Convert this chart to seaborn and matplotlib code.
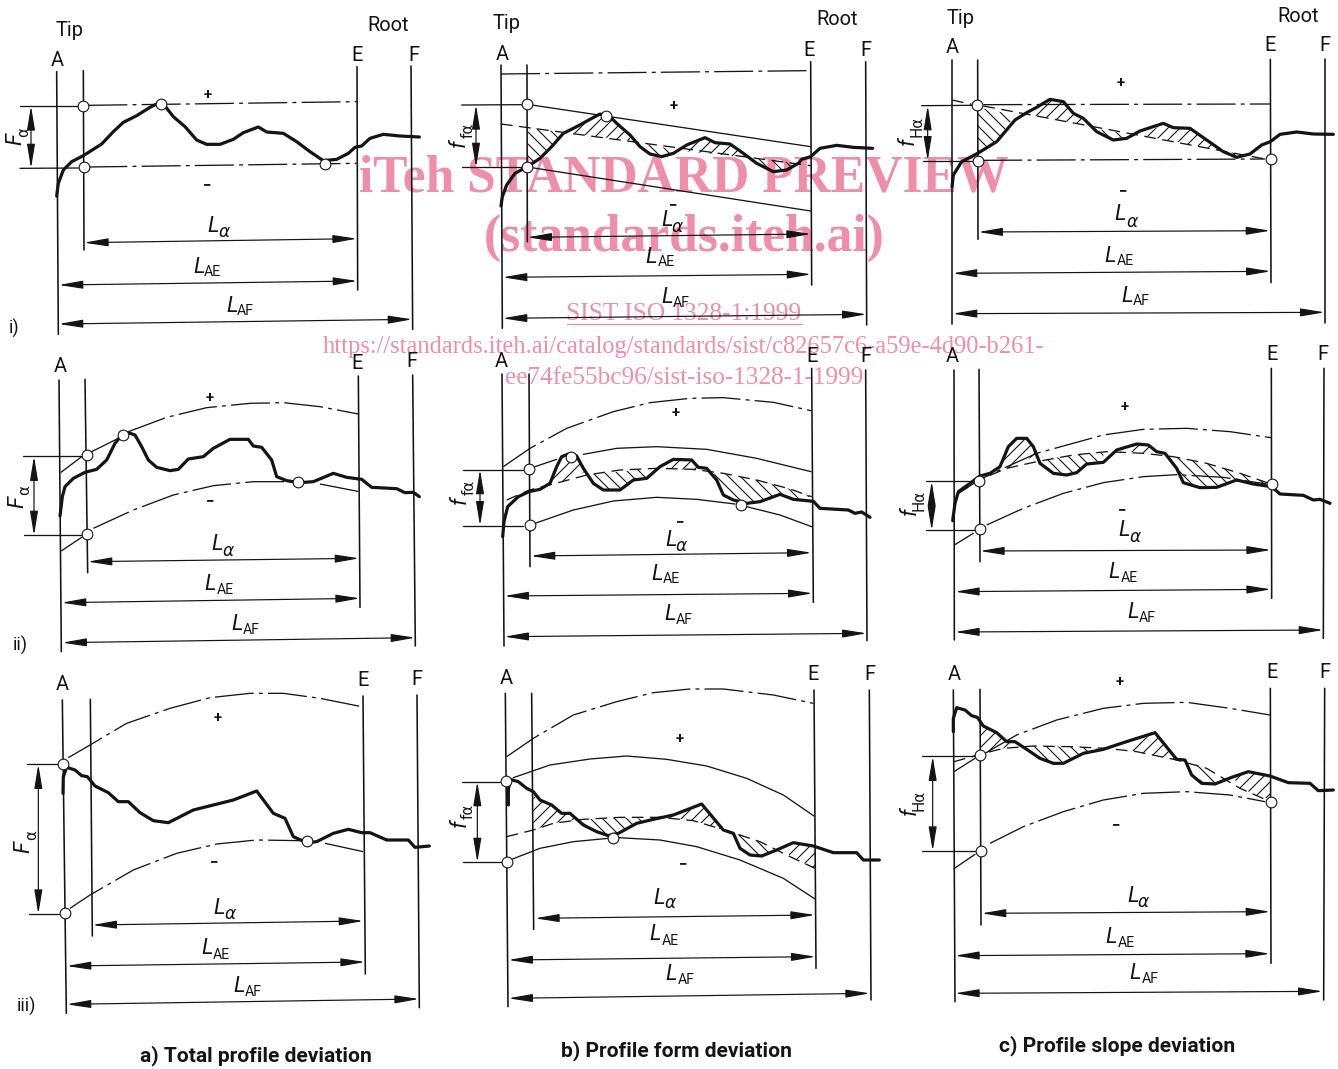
import matplotlib
matplotlib.use('Agg')
import matplotlib.pyplot as plt
from matplotlib.patches import Polygon
import seaborn as sns

DASHDOT = (0, (30, 4, 3, 4))
DASHED = (0, (9, 5))
INK = '#141414'
PINK = '#F08DAA'

# column a
a1_profile = [(170,588),(175,550),(190,510),(215,485),(250,467),(305,432),(340,395),(370,367),(410,347),(450,322),(470,312),(495,318),(520,350),(555,380),(590,420),(620,433),(660,433),(700,418),(730,398),(775,381),(800,396),(850,400),(890,425),(930,455),(970,482),(1010,478),(1045,460),(1065,442),(1085,438),(1110,415),(1150,403),(1200,408),(1258,411)]
a1_verts = [(170,215,175,1003),(250,212,252,750),(1071,200,1073,870),(1233,198,1238,988)]
a1_thin = [[(60,318),(235,318)],[(60,505),(235,504)]]
a1_dashdot = [[(265,316),(1070,305)],[(265,501),(1070,490)]]
a1_circles = [(250,317),(252,501),(482,313),(975,492)]
a2_profile = [(180,528),(187,470),(195,440),(220,415),(255,397),(290,388),(320,360),(345,310),(365,285),(385,278),(405,285),(425,320),(445,360),(470,382),(510,392),(535,388),(565,357),(610,350),(640,325),(690,298),(745,298),(760,318),(785,322),(815,360),(830,410),(860,422),(900,428),(940,425),(1000,400),(1040,412),(1085,418),(1115,442),(1190,446),(1215,458),(1240,457),(1258,470)]
a2_verts = [(177,120,184,935),(255,118,263,698),(1075,108,1080,802),(1238,105,1246,918)]
a2_thin = [[(70,349),(245,349)],[(72,586),(245,586)],[(183,397),(245,350)],[(275,335),(355,295)],[(185,632),(245,592)]]
a2_dashdot = [[(385,275),(500,232),(620,203),(750,190),(850,188),(960,200),(1075,222)],[(280,565),(400,510),(520,465),(640,437),(760,425),(880,425)],[(960,432),(1078,455)]]
a2_circles = [(260,346),(261,582),(369,286),(894,425)]
a3_profile = [(189,400),(190,350),(200,322),(225,330),(245,347),(262,350),(285,378),(325,398),(355,425),(385,425),(420,458),(460,482),(505,488),(580,450),(640,435),(700,420),(770,393),(820,460),(855,475),(880,530),(920,548),(950,545),(1000,520),(1045,508),(1085,518),(1110,518),(1160,540),(1225,540),(1245,562),(1288,558)]
a3_verts = [(187,120,199,1060),(271,118,277,828),(1089,108,1096,942),(1251,105,1258,1043)]
a3_thin = [[(80,313),(170,313)],[(88,762),(180,762)]]
a3_dashdot = [[(205,293),(270,255),(380,190),(510,145),(630,113),(750,100),(850,100),(960,115),(1085,140)],[(210,745),(270,705),(400,630),(530,580),(650,552),(770,540),(905,542)],[(975,550),(1090,575)]]
a3_circles = [(190,312),(195,760),(921,544)]

# column b
b1_profile = [(183,618),(187,590),(200,555),(225,520),(262,500),(300,475),(335,440),(370,400),(410,380),(450,358),(480,342),(510,350),(530,370),(570,405),(600,440),(630,462),(665,470),(700,460),(740,435),(795,413),(825,428),(870,432),(910,460),(950,490),(1000,515),(1040,510),(1075,490),(1085,478),(1112,470),(1140,445),(1190,436),(1240,442),(1298,445)]
b1_verts = [(183,195,187,985),(261,195,262,725),(1112,185,1115,855),(1277,185,1280,975)]
b1_thin = [[(65,315),(245,314)],[(275,315),(1112,440)],[(65,502),(245,502)],[(275,503),(1112,633)]]
b1_dashdot = [[(183,222),(1100,212)]]
b1_dashed = [[(183,372),(1112,497)]]
b1_circles = [(260,313),(262,502),(497,347)]
b1_hatch = [('\\',[(262,382),(365,397),(335,440),(300,475),(262,495)]),('/',[(380,398),(410,380),(450,358),(480,342),(510,350),(530,370),(570,405),(570,422)]),('\\',[(595,427),(630,462),(665,470),(700,460),(710,451)]),('/',[(720,452),(795,413),(825,428),(870,432),(910,460),(925,473)]),('\\',[(950,490),(1000,515),(1040,510),(1075,490),(1112,495),(950,475)])]
b2_profile = [(188,590),(192,545),(203,500),(235,470),(267,455),(300,448),(330,430),(350,380),(365,350),(385,342),(410,348),(430,385),(460,430),(490,450),(540,450),(580,420),(620,415),(660,380),(700,358),(755,360),(775,382),(800,385),(830,420),(850,465),(880,480),(920,490),(960,485),(1020,463),(1060,478),(1120,484),(1140,505),(1225,510),(1245,520),(1265,516),(1290,532)]
b2_verts = [(186,102,192,918),(267,102,270,680),(1115,85,1120,787),(1277,90,1281,902)]
b2_thin = [[(70,389),(250,389)],[(285,380),(350,358)],[(430,343),(530,325),(650,320),(800,328),(950,355),(1113,395)],[(70,557),(250,557)],[(285,550),(400,510),(520,483),(650,472),(770,478),(885,492)],[(920,500),(1020,525),(1115,560)]]
b2_dashdot = [[(190,380),(270,325),(380,265),(520,215),(630,188),(750,175),(850,173),(1000,187),(1113,212)]]
b2_dashed = [[(200,480),(268,450),(340,432),(440,405),(540,390),(650,385),(760,388),(850,400),(950,420),(1050,447),(1115,470)]]
b2_circles = [(268,387),(270,554),(392,351),(904,495)]
b2_hatch = [('/',[(335,430),(365,350),(385,342),(410,348),(435,395),(390,420)]),('\\',[(445,404),(460,430),(490,450),(540,450),(580,420),(620,410),(610,388)]),('/',[(690,385),(700,358),(755,360),(775,382),(770,392)]),('\\',[(820,395),(830,420),(850,465),(880,480),(920,490),(960,485),(1000,470),(1020,463),(1060,478),(1115,470),(1050,447),(950,420)])]
b3_profile = [(205,435),(205,390),(210,358),(235,365),(260,385),(280,395),(300,420),(335,435),(365,460),(390,460),(430,495),(470,515),(505,527),(535,520),(590,490),(640,478),(700,465),(785,432),(850,510),(880,520),(900,565),(930,585),(965,588),(1010,570),(1060,548),(1120,558),(1180,578),(1250,578),(1270,600),(1318,600)]
b3_verts = [(196,100,204,1040),(275,100,281,808),(1122,90,1128,925),(1288,90,1293,1020)]
b3_thin = [[(65,365),(180,365)],[(68,607),(185,607)],[(220,353),(330,315),(450,297),(560,288),(680,298),(800,318),(920,355),(1030,405),(1122,468)],[(215,598),(300,565),(400,545),(505,535)],[(535,533),(660,540),(770,560),(900,600),(1030,655),(1125,717)]]
b3_dashdot = [[(200,290),(280,235),(400,165),(530,125),(640,98),(750,87),(850,87),(1000,105),(1120,130)]]
b3_dashed = [[(200,530),(280,510),(340,490),(430,478),(540,472),(660,472),(760,482),(860,512),(960,545),(1050,590),(1125,625)]]
b3_circles = [(198,363),(200,605),(520,535)]
b3_hatch = [('/',[(280,408),(300,420),(335,435),(365,460),(390,460),(415,478),(340,490),(280,510)]),('\\',[(430,478),(430,495),(470,515),(505,527),(535,520),(590,490),(640,478),(540,472)]),('/',[(680,472),(700,465),(785,432),(850,510),(800,495),(760,482)]),('\\',[(885,520),(900,565),(930,585),(965,588),(1000,572),(960,545)]),('/',[(1030,555),(1060,548),(1125,558),(1125,625),(1050,590)])]

# column c
c1_profile = [(186,560),(190,525),(215,485),(263,460),(320,425),(375,360),(410,338),(440,322),(480,298),(520,305),(550,340),(580,355),(620,395),(670,420),(710,415),(750,393),(820,370),(850,383),(900,385),(950,420),(1000,455),(1040,472),(1080,462),(1115,435),(1141,425),(1170,403),(1220,396),(1270,402),(1330,403)]
c1_verts = [(186,180,186,972),(263,180,264,718),(1141,178,1143,848),(1305,178,1305,968)]
c1_thin = [[(95,317),(245,316)],[(100,482),(245,482)]]
c1_dashdot = [[(280,314),(1141,312)],[(280,481),(1125,477)]]
c1_dashed = [[(186,300),(245,313)],[(280,318),(1125,477)]]
c1_circles = [(262,315),(263,482),(1143,478)]
c1_hatch = [('\\',[(263,322),(375,345),(320,425),(263,460)]),('/',[(430,346),(480,298),(520,305),(550,340),(580,355),(590,376)]),('\\',[(610,385),(670,420),(710,415),(730,405)]),('/',[(760,407),(820,370),(850,383),(900,385),(950,420),(985,449)]),('\\',[(1000,455),(1040,472),(1060,465),(1020,456)])]
c2_profile = [(188,542),(195,490),(205,455),(240,430),(270,408),(300,400),(330,380),(355,320),(380,295),(410,295),(430,320),(450,370),(490,400),(530,405),(560,398),(590,372),(640,367),(680,330),(740,312),(775,315),(800,335),(825,340),(860,385),(880,428),(930,443),(980,442),(1040,420),(1090,432),(1145,440),(1170,462),(1240,466),(1270,480),(1290,478),(1320,490)]
c2_verts = [(192,90,193,900),(267,88,270,665),(1144,85,1145,775),(1302,85,1300,895)]
c2_thin = [[(108,424),(255,424)],[(108,571),(255,571)],[(193,615),(250,580)]]
c2_dashdot = [[(205,460),(267,420),(340,385),(440,340),(640,285),(760,268),(890,265),(1020,275),(1143,293)],[(290,555),(400,505),(520,460),(640,428),(760,410),(860,404),(1000,412),(1130,432)]]
c2_dashed = [[(205,460),(267,420),(350,385),(440,365),(550,345),(650,335),(760,340),(850,350),(950,370),(1050,400),(1143,432)]]
c2_circles = [(268,424),(269,568),(1145,432)]
c2_hatch = [('\\',[(205,460),(240,432),(268,425)]),('/',[(330,385),(355,320),(380,295),(410,295),(440,345),(355,385)]),('\\',[(450,360),(490,400),(530,405),(560,398),(590,372),(640,365),(640,335),(550,345)]),('/',[(690,335),(740,312),(775,315),(790,340)]),('\\',[(840,350),(860,385),(880,428),(930,443),(980,442),(1040,420),(1090,432),(1130,428),(1050,400),(950,370)])]
c3_profile = [(190,215),(190,175),(200,143),(225,150),(245,167),(262,172),(280,198),(320,218),(350,245),(375,245),(410,268),(450,295),(490,310),(520,310),(580,280),(640,268),(700,248),(795,218),(860,298),(885,300),(905,345),(935,370),(975,372),(1025,352),(1075,335),(1140,348),(1195,368),(1260,370),(1285,392),(1330,390)]
c3_verts = [(190,90,195,1025),(270,88,273,795),(1141,85,1143,910),(1304,85,1301,1020)]
c3_thin = [[(95,289),(255,289)],[(97,573),(255,573)],[(192,335),(255,295)],[(192,626),(255,583)]]
c3_dashdot = [[(285,280),(380,225),(500,180),(640,145),(760,130),(890,127),(1020,145),(1140,165)],[(300,550),(400,500),(520,455),(640,420),(760,400),(890,395),(1020,405),(1125,425)]]
c3_dashed = [[(192,305),(270,283),(340,265),(430,258),(540,260),(650,265),(740,275),(860,300),(950,325),(1050,385),(1130,420)]]
c3_circles = [(270,286),(272,572),(1143,427)]
c3_hatch = [('/',[(270,195),(280,198),(320,218),(350,245),(375,250),(340,265),(270,283)]),('\\',[(420,258),(450,295),(490,310),(520,310),(580,280),(640,268),(560,260)]),('/',[(700,268),(795,218),(860,298),(790,285),(740,275)]),('\\',[(910,310),(935,370),(975,372),(1000,360),(960,332)]),('/',[(1030,350),(1075,335),(1140,348),(1143,420),(1050,385)])]

# dimension arrows: (x0, y0, x1, y1) for f, L alpha, L AE, L AF
a1_arrows = [(93,318,93,505),(252,728,1071,716),(176,855,1072,843),(176,972,1237,958)]
a2_arrows = [(102,349,102,586),(263,665,1078,655),(185,788,1080,775),(187,908,1246,893)]
a3_arrows = [(115,313,115,762),(277,795,1090,783),(200,918,1095,906),(200,1033,1257,1017)]
b1_arrows = [(108,315,108,502),(262,712,1113,702),(188,832,1114,823),(188,955,1280,943)]
b2_arrows = [(120,389,120,557),(272,648,1115,638),(193,768,1118,760),(193,890,1280,880)]
b3_arrows = [(112,365,112,607),(285,775,1125,765),(205,900,1127,890),(205,1015,1290,1000)]
c1_arrows = [(113,317,113,482),(265,696,1141,692),(188,820,1142,814),(188,941,1304,937)]
c2_arrows = [(125,424,125,571),(270,633,1143,630),(195,755,1143,748),(195,876,1300,870)]
c3_arrows = [(128,289,128,573),(275,760,1141,755),(195,887,1140,881),(195,1000,1298,994)]

# label anchors: A, E, F, plus, minus, then L and subscript for L alpha, L AE, L AF, then f and its subscript
a1_text = [(171,182),(1071,166),(1241,166),(623,286),(620,555),(640,678),(673,695),(597,802),(638,815),(695,918),(737,933),(47,418),(72,395)]
a2_text = [(180,80),(1072,70),(1235,65),(628,175),(630,483),(650,615),(683,633),(630,735),(675,750),(712,855),(755,870),(55,485),(75,450)]
a3_text = [(188,75),(1088,62),(1251,58),(652,175),(643,606),(657,745),(690,762),(622,865),(665,885),(716,980),(760,997),(72,560),(95,525)]
b1_text = [(186,163),(1108,153),(1278,150),(700,318),(698,615),(680,660),(712,680),(632,772),(678,787),(680,893),(725,910),(58,430),(85,390)]
b2_text = [(185,65),(1117,50),(1278,50),(708,218),(720,547),(692,600),(722,617),(650,703),(693,718),(690,825),(733,840),(62,482),(87,442)]
b3_text = [(198,55),(1120,45),(1290,45),(720,238),(730,612),(657,715),(690,730),(645,825),(690,843),(692,945),(738,960),(60,490),(85,455)]
c1_text = [(188,143),(1140,137),(1305,137),(693,250),(700,572),(690,645),(725,665),(660,768),(705,782),(710,888),(755,903),(55,425),(80,380)]
c2_text = [(188,50),(1145,45),(1300,42),(703,200),(695,510),(703,572),(735,590),(672,698),(717,715),(728,818),(773,835),(60,515),(88,480)]
c3_text = [(193,43),(1145,37),(1305,37),(688,65),(678,495),(728,710),(760,725),(662,833),(708,848),(735,940),(780,957),(60,455),(88,420)]

letter_labels = ['A', 'E', 'F', '+', '\u2212']
deviation_names = [('F', '\u03b1'), ('f', 'f\u03b1'), ('f', 'H\u03b1')]
length_subs = ['\u03b1', 'AE', 'AF']
tip_root = [[(208,88),(1163,73)], [(200,68),(1192,55)], [(212,52),(1225,48)]]
row_labels = ['i)', 'ii)', 'iii)']
row_label_pos = [(42,985), (60,915), (80,1040)]
captions = ['a) Total profile deviation', 'b) Profile form deviation', 'c) Profile slope deviation']
caption_pos = [(256,1055), (676,1050), (1117,1045)]
watermark_lines = ['iTeh STANDARD PREVIEW', '(standards.iteh.ai)', 'SIST ISO 1328-1:1999',
                   'https://standards.iteh.ai/catalog/standards/sist/c82657c6-a59e-4d90-b261-',
                   'ee74fe55bc96/sist-iso-1328-1-1999']

col_x = [0, 440, 890]
row_y = [0, 340, 660]

sns.set_theme(style='white')
plt.rcParams['font.family'] = ['Roboto', 'DejaVu Sans']
plt.rcParams['hatch.linewidth'] = 1.1
plt.rcParams['hatch.color'] = INK

# at 72 dpi one point is one pixel
fig = plt.figure(figsize=(1338 / 72, 1069 / 72), dpi=72)
ax = fig.add_axes([0, 0, 1, 1])
alpha_font = ['DejaVu Sans']


def to_px(pts, ox, oy):
    return [ox + p[0] / 3 for p in pts], [oy + p[1] / 3 for p in pts]


def curve(pts, ox, oy, lw=1.3, ls='-', z=3):
    xs, ys = to_px(pts, ox, oy)
    sns.lineplot(x=xs, y=ys, sort=False, estimator=None, errorbar=None, ax=ax,
                 color=INK, linewidth=lw, linestyle=ls, zorder=z)


def draw_panel(col, row, profile, verts, thin, dashdot, dashed, circles, hatch, arrows, text):
    ox, oy = col_x[col], row_y[row]
    for v in verts:
        curve([(v[0], v[1]), (v[2], v[3])], ox, oy, lw=1.6)
    for pts in thin:
        curve(pts, ox, oy)
    for pts in dashdot:
        curve(pts, ox, oy, ls=DASHDOT)
    for pts in dashed:
        curve(pts, ox, oy, ls=DASHED)
    for h, pts in hatch:
        xs, ys = to_px(pts, ox, oy)
        # doubled pattern, a single one is too sparse against the scan
        ax.add_patch(Polygon(list(zip(xs, ys)), closed=True, fill=False, hatch=h * 2,
                             edgecolor=INK, linewidth=0, zorder=2))
    curve(profile, ox, oy, lw=3.2, z=5)
    xs, ys = to_px(circles, ox, oy)
    sns.scatterplot(x=xs, y=ys, s=115, color='white', edgecolor=INK, linewidth=1.1,
                    zorder=6, ax=ax, legend=False)
    for a in arrows:
        ax.annotate('', xy=(ox + a[2] / 3, oy + a[3] / 3), xytext=(ox + a[0] / 3, oy + a[1] / 3),
                    arrowprops=dict(arrowstyle='<|-|>,head_length=1.2,head_width=0.2', mutation_scale=17,
                                    lw=1.2, color=INK, shrinkA=0, shrinkB=0), zorder=4)
    # A E F + -
    for lab, p in zip(letter_labels, text[:5]):
        size = 15 if lab in '+\u2212' else 20
        weight = 'bold' if lab in '+\u2212' else 'normal'
        ax.text(ox + p[0] / 3, oy + p[1] / 3, lab, fontsize=size, fontweight=weight,
                ha='center', va='center', color=INK)
    # L alpha, L AE, L AF
    for i, sub in enumerate(length_subs):
        p, q = text[5 + 2 * i], text[6 + 2 * i]
        ax.text(ox + p[0] / 3, oy + p[1] / 3, 'L', fontsize=22, style='italic',
                ha='center', va='center', color=INK)
        if sub == '\u03b1':
            ax.text(ox + q[0] / 3, oy + q[1] / 3, sub, fontsize=17, style='italic', family=alpha_font,
                    ha='center', va='center', color=INK)
        else:
            ax.text(ox + q[0] / 3, oy + q[1] / 3, sub, fontsize=14, ha='center', va='center', color=INK)
    # rotated deviation name
    main, sub = deviation_names[col]
    p, q = text[11], text[12]
    ax.text(ox + p[0] / 3, oy + p[1] / 3, main, fontsize=22, style='italic', rotation=90,
            ha='center', va='center', color=INK)
    ax.text(ox + q[0] / 3, oy + q[1] / 3, sub, fontsize=15, rotation=90, family=alpha_font,
            ha='center', va='center', color=INK)


draw_panel(0, 0, a1_profile, a1_verts, a1_thin, a1_dashdot, [], a1_circles, [], a1_arrows, a1_text)
draw_panel(0, 1, a2_profile, a2_verts, a2_thin, a2_dashdot, [], a2_circles, [], a2_arrows, a2_text)
draw_panel(0, 2, a3_profile, a3_verts, a3_thin, a3_dashdot, [], a3_circles, [], a3_arrows, a3_text)
draw_panel(1, 0, b1_profile, b1_verts, b1_thin, b1_dashdot, b1_dashed, b1_circles, b1_hatch, b1_arrows, b1_text)
draw_panel(1, 1, b2_profile, b2_verts, b2_thin, b2_dashdot, b2_dashed, b2_circles, b2_hatch, b2_arrows, b2_text)
draw_panel(1, 2, b3_profile, b3_verts, b3_thin, b3_dashdot, b3_dashed, b3_circles, b3_hatch, b3_arrows, b3_text)
draw_panel(2, 0, c1_profile, c1_verts, c1_thin, c1_dashdot, c1_dashed, c1_circles, c1_hatch, c1_arrows, c1_text)
draw_panel(2, 1, c2_profile, c2_verts, c2_thin, c2_dashdot, c2_dashed, c2_circles, c2_hatch, c2_arrows, c2_text)
draw_panel(2, 2, c3_profile, c3_verts, c3_thin, c3_dashdot, c3_dashed, c3_circles, c3_hatch, c3_arrows, c3_text)

for col, pair in enumerate(tip_root):
    for lab, p in zip(['Tip', 'Root'], pair):
        ax.text(col_x[col] + p[0] / 3, p[1] / 3 + 1, lab, fontsize=20, ha='center', va='center', color=INK)

for lab, p, oy in zip(row_labels, row_label_pos, row_y):
    ax.text(p[0] / 3, oy + p[1] / 3, lab, fontsize=18, ha='center', va='center', color=INK)

for lab, p in zip(captions, caption_pos):
    ax.text(p[0], p[1] + 1, lab, fontsize=21, fontweight='bold', ha='center', va='center', color=INK)

# watermark sits under the ink, like the scan
serif = ['Liberation Serif', 'DejaVu Serif']
ax.text(684, 179, watermark_lines[0], fontsize=51.5, fontweight='bold', family=serif, color=PINK,
        ha='center', va='center', zorder=1)
ax.text(684, 238, watermark_lines[1], fontsize=51.5, fontweight='bold', family=serif, color=PINK,
        ha='center', va='center', zorder=1)
ax.text(684, 314, watermark_lines[2], fontsize=25.4, family=serif, color=PINK,
        ha='center', va='center', zorder=1)
ax.plot([567, 802], [324, 324], color=PINK, lw=1.3, zorder=1)
ax.text(684, 347, watermark_lines[3], fontsize=24.5, family=serif, color=PINK,
        ha='center', va='center', zorder=1)
ax.text(684, 378, watermark_lines[4], fontsize=25.2, family=serif, color=PINK,
        ha='center', va='center', zorder=1)

ax.set_xlim(0, 1338)
ax.set_ylim(1069, 0)
ax.axis('off')
plt.savefig('out.png', dpi=72)
